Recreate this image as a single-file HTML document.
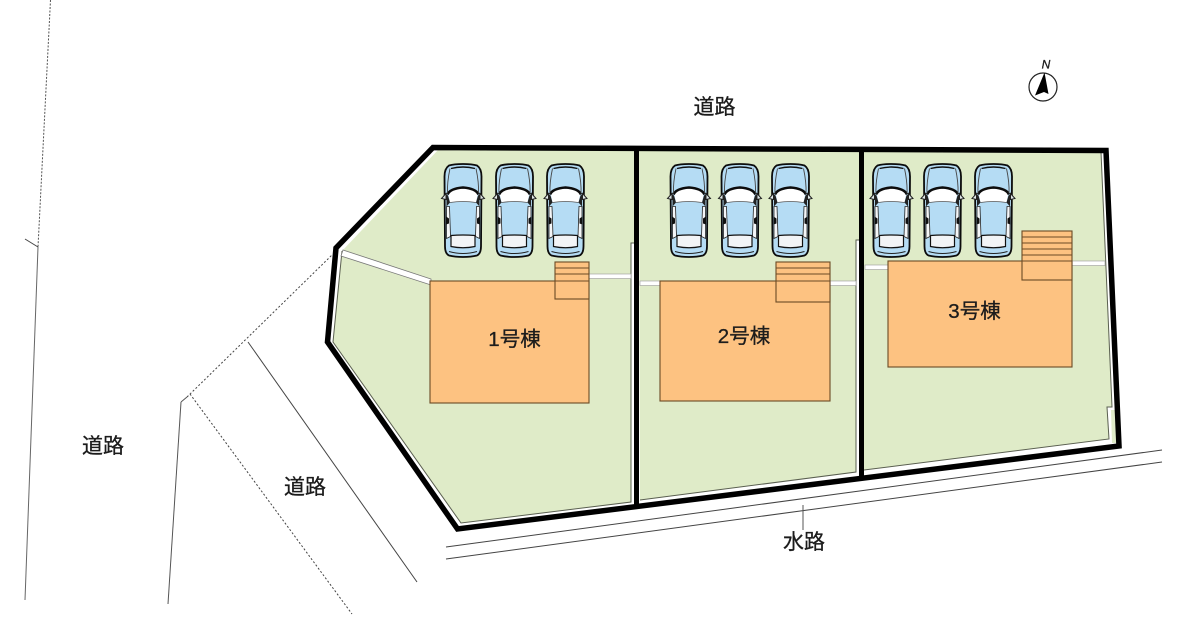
<!DOCTYPE html>
<html>
<head>
<meta charset="utf-8">
<style>
html,body{margin:0;padding:0;background:#fff;}
svg{display:block;}
text{font-family:"Liberation Sans","Noto Sans CJK JP",sans-serif;fill:#1c1c1c;stroke:#1c1c1c;stroke-width:.3;}
</style>
</head>
<body>
<svg width="1200" height="620" viewBox="0 0 1200 620" xmlns="http://www.w3.org/2000/svg">
<defs>
<g id="car">
  <path d="M-14,-45 Q-9,-46.5 0,-46.5 Q9,-46.5 14,-45 Q18.5,-42 18.5,-34 L18,36 Q18,43 14,45 Q8,46.5 0,46.5 Q-8,46.5 -14,45 Q-18,43 -18,36 L-18.5,-34 Q-18.5,-42 -14,-45Z" fill="#b5dcf4" stroke="#0c0c0c" stroke-width="1.8"/>
  <path d="M-15,-18 Q0,-26 15,-18 L13,-8 Q0,-10 -13,-8Z" fill="#fff"/>
  <path d="M-15.5,-16 Q-13,-22 0,-23 Q13,-22 15.5,-16" fill="none" stroke="#0c0c0c" stroke-width="2.6"/>
  <path d="M-12,-8 L-12,25 L12,25 L12,-8 Q0,-10 -12,-8Z" fill="#b5dcf4"/>
  <path d="M-13,-8 Q0,-10 13,-8" fill="none" stroke="#555" stroke-width=".8"/>
  <path d="M-12,25 L-12,36 Q0,38.5 12,36 L12,25 Q0,24 -12,25Z" fill="#f2f4f6" stroke="#111" stroke-width="1.2"/>
  <path d="M-13,-42 Q-16,-28 -15.5,-17 M13,-42 Q16,-28 15.5,-17" fill="none" stroke="#444" stroke-width=".9"/>
  <path d="M-16.5,-4 L-13.5,-4 L-12.5,26 L-16.5,28Z M16.5,-4 L13.5,-4 L12.5,26 L16.5,28Z" fill="#f4f6f8" stroke="#222" stroke-width=".8"/>
  <path d="M-16.5,-16 L-15,-15 L-13,-8 L-16.5,-4Z M16.5,-16 L15,-15 L13,-8 L16.5,-4Z" fill="#222"/>
  <path d="M-17,-17 L-21.5,-12 L-17,-11Z M17,-17 L21.5,-12 L17,-11Z" fill="#dfe8e8" stroke="#222" stroke-width="1"/>
  <path d="M-17,6 L-14,8 L-14,13 L-17,14Z M17,6 L14,8 L14,13 L17,14Z" fill="#111"/>
  <path d="M-12,-42 Q0,-45 12,-42" fill="none" stroke="#111" stroke-width="1.4"/>
  <path d="M-14,41 Q0,45 14,41" fill="none" stroke="#222" stroke-width="1"/>
</g>
</defs>

<rect width="1200" height="620" fill="#fff"/>

<!-- surrounding lines -->
<line x1="50.5" y1="0" x2="38" y2="247" stroke="#555" stroke-width="1" stroke-dasharray="2 1.5"/>
<line x1="38" y1="247" x2="25" y2="600" stroke="#666" stroke-width="1"/>
<line x1="25" y1="239" x2="38" y2="247" stroke="#444" stroke-width="1"/>
<line x1="187" y1="397" x2="332" y2="255" stroke="#444" stroke-width="1" stroke-dasharray="2 2"/>
<line x1="181" y1="402" x2="187" y2="397" stroke="#555" stroke-width="1"/>
<line x1="181" y1="402" x2="168" y2="604" stroke="#555" stroke-width="1"/>
<line x1="190" y1="394" x2="352" y2="614" stroke="#444" stroke-width="1" stroke-dasharray="2 2"/>
<line x1="248" y1="342" x2="417" y2="582" stroke="#444" stroke-width="1"/>
<line x1="446" y1="547" x2="1162" y2="450" stroke="#444" stroke-width="1"/>
<line x1="446" y1="559" x2="1162" y2="462" stroke="#444" stroke-width="1"/>
<line x1="803" y1="505" x2="803" y2="530" stroke="#555" stroke-width="1"/>

<!-- green lots -->
<polygon points="438,150 634,150 634,243 631,243 631,502 461,523 333,342 342,251" fill="#dfebc8"/>
<polygon points="639,151 859,151 859,240 856,240 856,472 640,500" fill="#dfebc8"/>
<polygon points="864,151 1101,152 1112,407 1107,407 1109,439 864,470" fill="#dfebc8"/>
<polygon points="1111,410 1115,410 1117,443 1112,443" fill="#dfebc8"/>

<!-- lot thin outlines -->
<polyline points="342,251 333,342 461,523 631,502 631,243 634,243" fill="none" stroke="#5a5f50" stroke-width="1"/>
<polyline points="640,500 856,472 856,240 859,240" fill="none" stroke="#5a5f50" stroke-width="1"/>
<polyline points="864,470 1109,439 1107,407 1112,407 1101,152" fill="none" stroke="#5a5f50" stroke-width="1"/>

<!-- white strips -->
<polygon points="343,250 431,279 431,285 341,256" fill="#fff" stroke="#777" stroke-width=".8"/>
<rect x="589" y="274" width="42" height="4.5" fill="#fff" stroke="#999" stroke-width=".6"/>
<rect x="640" y="281" width="20" height="4.5" fill="#fff" stroke="#999" stroke-width=".6"/>
<rect x="830" y="281" width="26" height="4.5" fill="#fff" stroke="#999" stroke-width=".6"/>
<rect x="865" y="265" width="23" height="4.5" fill="#fff" stroke="#999" stroke-width=".6"/>
<rect x="1072" y="261" width="33" height="4.5" fill="#fff" stroke="#999" stroke-width=".6"/>

<!-- boundary -->
<polygon points="433,147.5 1106,150.5 1119,446 457.5,529 327.5,342 336,248" fill="none" stroke="#000" stroke-width="5.5" stroke-linejoin="miter"/>
<line x1="636.5" y1="148" x2="636.5" y2="508" stroke="#000" stroke-width="5"/>
<line x1="861.5" y1="149" x2="861.5" y2="477" stroke="#000" stroke-width="5"/>

<!-- buildings -->
<g fill="#fdc281" stroke="#6b4a25" stroke-width="1.1">
  <rect x="430" y="281" width="159" height="122"/>
  <rect x="555" y="262" width="34" height="37"/>
  <path d="M555,268H589M555,274H589M555,281H589" fill="none"/>
  <rect x="660" y="281" width="170" height="120"/>
  <rect x="776" y="262" width="54" height="40"/>
  <path d="M776,268H830M776,274H830M776,281H830" fill="none"/>
  <rect x="888" y="261" width="184" height="106"/>
  <rect x="1022" y="231" width="50" height="49"/>
  <path d="M1022,237H1072M1022,243H1072M1022,249H1072M1022,255H1072M1022,261H1072" fill="none"/>
</g>

<!-- cars -->
<use href="#car" x="463" y="210.5"/>
<use href="#car" x="514.5" y="210.5"/>
<use href="#car" x="565.5" y="210.5"/>
<use href="#car" x="689" y="210.5"/>
<use href="#car" x="740" y="210.5"/>
<use href="#car" x="790.5" y="210.5"/>
<use href="#car" x="891.5" y="210.5"/>
<use href="#car" x="942.5" y="210.5"/>
<use href="#car" x="993.5" y="210.5"/>

<!-- compass -->
<circle cx="1043" cy="87" r="14" fill="#fff" stroke="#222" stroke-width="1.2"/>
<polygon points="1044.5,72.5 1035,95.5 1044,92 1048.5,94" fill="#000"/>
<text x="1046" y="68.5" font-size="12" font-style="italic" text-anchor="middle">N</text>

<!-- labels -->
<g font-size="21" text-anchor="middle">
  <text x="714.5" y="114">道路</text>
  <text x="103" y="453">道路</text>
  <text x="305" y="494">道路</text>
  <text x="804" y="549">水路</text>
</g>
<g font-size="20.5" text-anchor="middle">
  <text x="514.5" y="346">1号棟</text>
  <text x="744" y="343">2号棟</text>
  <text x="974.5" y="318">3号棟</text>
</g>
</svg>
</body>
</html>
